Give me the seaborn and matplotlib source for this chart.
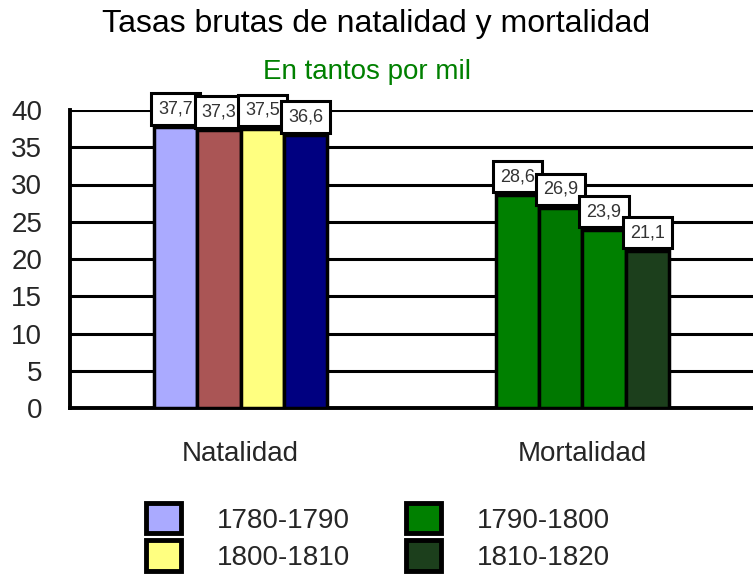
import matplotlib
matplotlib.use("Agg")
import matplotlib.pyplot as plt
import seaborn as sns
import pandas as pd
from matplotlib.patches import Patch

categorias = ["Natalidad", "Mortalidad"]
periodos = ["1780-1790", "1790-1800", "1800-1810", "1810-1820"]
natalidad = [37.7, 37.3, 37.5, 36.6]
mortalidad = [28.6, 26.9, 23.9, 21.1]
etiquetas_nat = ["37,7", "37,3", "37,5", "36,6"]
etiquetas_mort = ["28,6", "26,9", "23,9", "21,1"]
colores_nat = ["#aaaaff", "#aa5555", "#ffff80", "#000080"]
colores_mort = ["#008000", "#007800", "#008000", "#1c3f1c"]
colores_leyenda = {"1780-1790": "#aaaaff", "1790-1800": "#008000",
                   "1800-1810": "#ffff80", "1810-1820": "#1c3f1c"}
yticks = [0, 5, 10, 15, 20, 25, 30, 35, 40]

sns.set_style("white")
plt.rcParams["font.family"] = ["Liberation Sans", "DejaVu Sans"]

df = pd.DataFrame({
    "categoria": [categorias[0]] * 4 + [categorias[1]] * 4,
    "periodo": periodos * 2,
    "valor": natalidad + mortalidad,
})

fig = plt.figure(figsize=(7.53, 5.79), dpi=100)
ax = fig.add_axes([70 / 753, 1 - 408 / 579, 1 - 70 / 753, 298 / 579])

sns.barplot(data=df, x="categoria", y="valor", hue="periodo", order=categorias,
            hue_order=periodos, width=0.507, ax=ax, legend=False,
            edgecolor="black", linewidth=2.5, zorder=3, errorbar=None)

cols = [colores_nat, colores_mort]
labs = [etiquetas_nat, etiquetas_mort]
for h, cont in enumerate(ax.containers):
    for c, bar in enumerate(cont):
        bar.set_facecolor(cols[c][h])
        bar.set_edgecolor("black")
        bar.set_linewidth(2.5)
        x = bar.get_x() + bar.get_width() / 2
        y = bar.get_height()
        ax.annotate(labs[c][h], xy=(x, y), xytext=(0, 7), textcoords="offset points",
                    ha="center", va="bottom", fontsize=13, color="#333333",
                    zorder=5, annotation_clip=False,
                    bbox=dict(boxstyle="square,pad=0.4", fc="white", ec="black", lw=2.2))

ax.set_ylim(0, 40)
ax.set_xlim(-0.5, 1.5)
ax.set_yticks(yticks)
ax.set_yticklabels([str(t) for t in yticks], fontsize=20)
ax.yaxis.grid(True, color="black", linewidth=2.2, zorder=0)
ax.set_axisbelow(True)
ax.tick_params(axis="y", direction="out", length=15, width=2.2, color="black", pad=5)
ax.tick_params(axis="x", length=0, labelsize=20, pad=24)
ax.set_xlabel("")
ax.set_ylabel("")
for s in ["top", "right"]:
    ax.spines[s].set_visible(False)
ax.spines["left"].set_linewidth(2.8)
ax.spines["left"].set_color("black")
ax.spines["bottom"].set_linewidth(2.8)
ax.spines["bottom"].set_color("black")

fig.text(0.5, 1 - 24 / 579, "Tasas brutas de natalidad y mortalidad", ha="center",
         va="center", fontsize=23, color="black")
fig.text(367 / 753, 1 - 72 / 579, "En tantos por mil", ha="center", va="center",
         fontsize=20, color="#008000")

orden = ["1780-1790", "1800-1810", "1790-1800", "1810-1820"]
handles = [Patch(facecolor=colores_leyenda[p], edgecolor="black", linewidth=3.5, label=p)
           for p in orden]
fig.legend(handles=handles, ncol=2, loc="center", bbox_to_anchor=(378 / 753, 1 - 537 / 579),
           frameon=False, fontsize=20, handlelength=1.25, handleheight=1.3,
           handletextpad=1.3, columnspacing=2.0, labelspacing=0.25)

fig.savefig("out.png", dpi=100)
